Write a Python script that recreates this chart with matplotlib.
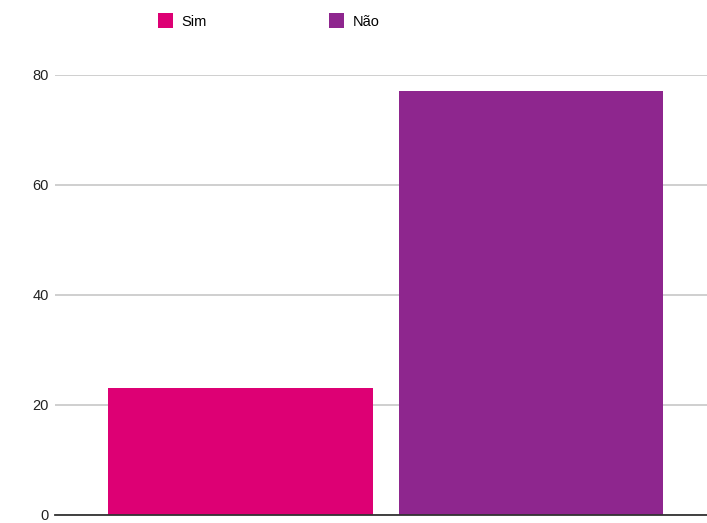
import matplotlib.pyplot as plt
from matplotlib.patches import Patch

plt.rcParams["font.family"] = ["Liberation Sans", "DejaVu Sans"]

# Respostas
labels = ["Sim", "Não"]
values = [23, 77]
colors = ["#DD0074", "#8E268E"]
yticks = [0, 20, 40, 60, 80]

fig = plt.figure(figsize=(7.07, 5.23), dpi=100)
ax = fig.add_axes([0.0778, 0.0153, 0.9222, 0.8413])

xpos = [0, 1]
ax.bar(xpos, values, width=0.91, color=colors, zorder=3)

ax.set_xlim(-0.637, 1.605)
ax.set_ylim(0, 80)
ax.set_yticks(yticks)
ax.set_xticks([])
ax.tick_params(axis="y", length=0, pad=4.5, labelsize=10.5, labelcolor="#222222")
ax.grid(axis="y", color="#cccccc", linewidth=1.3, zorder=0)
for side in ["top", "right", "left"]:
    ax.spines[side].set_visible(False)
ax.spines["bottom"].set_color("#333333")
ax.spines["bottom"].set_linewidth(1.3)
ax.spines["bottom"].set_zorder(4)

handles = [Patch(facecolor=c, label=l) for c, l in zip(colors, labels)]
fig.legend(handles=handles, loc="upper left", bbox_to_anchor=(0.205, 1.0),
           ncol=2, frameon=False, fontsize=10.5, handlelength=1.0,
           handleheight=1.2, handletextpad=0.6, columnspacing=8.4)

fig.savefig("out.png", dpi=100)
